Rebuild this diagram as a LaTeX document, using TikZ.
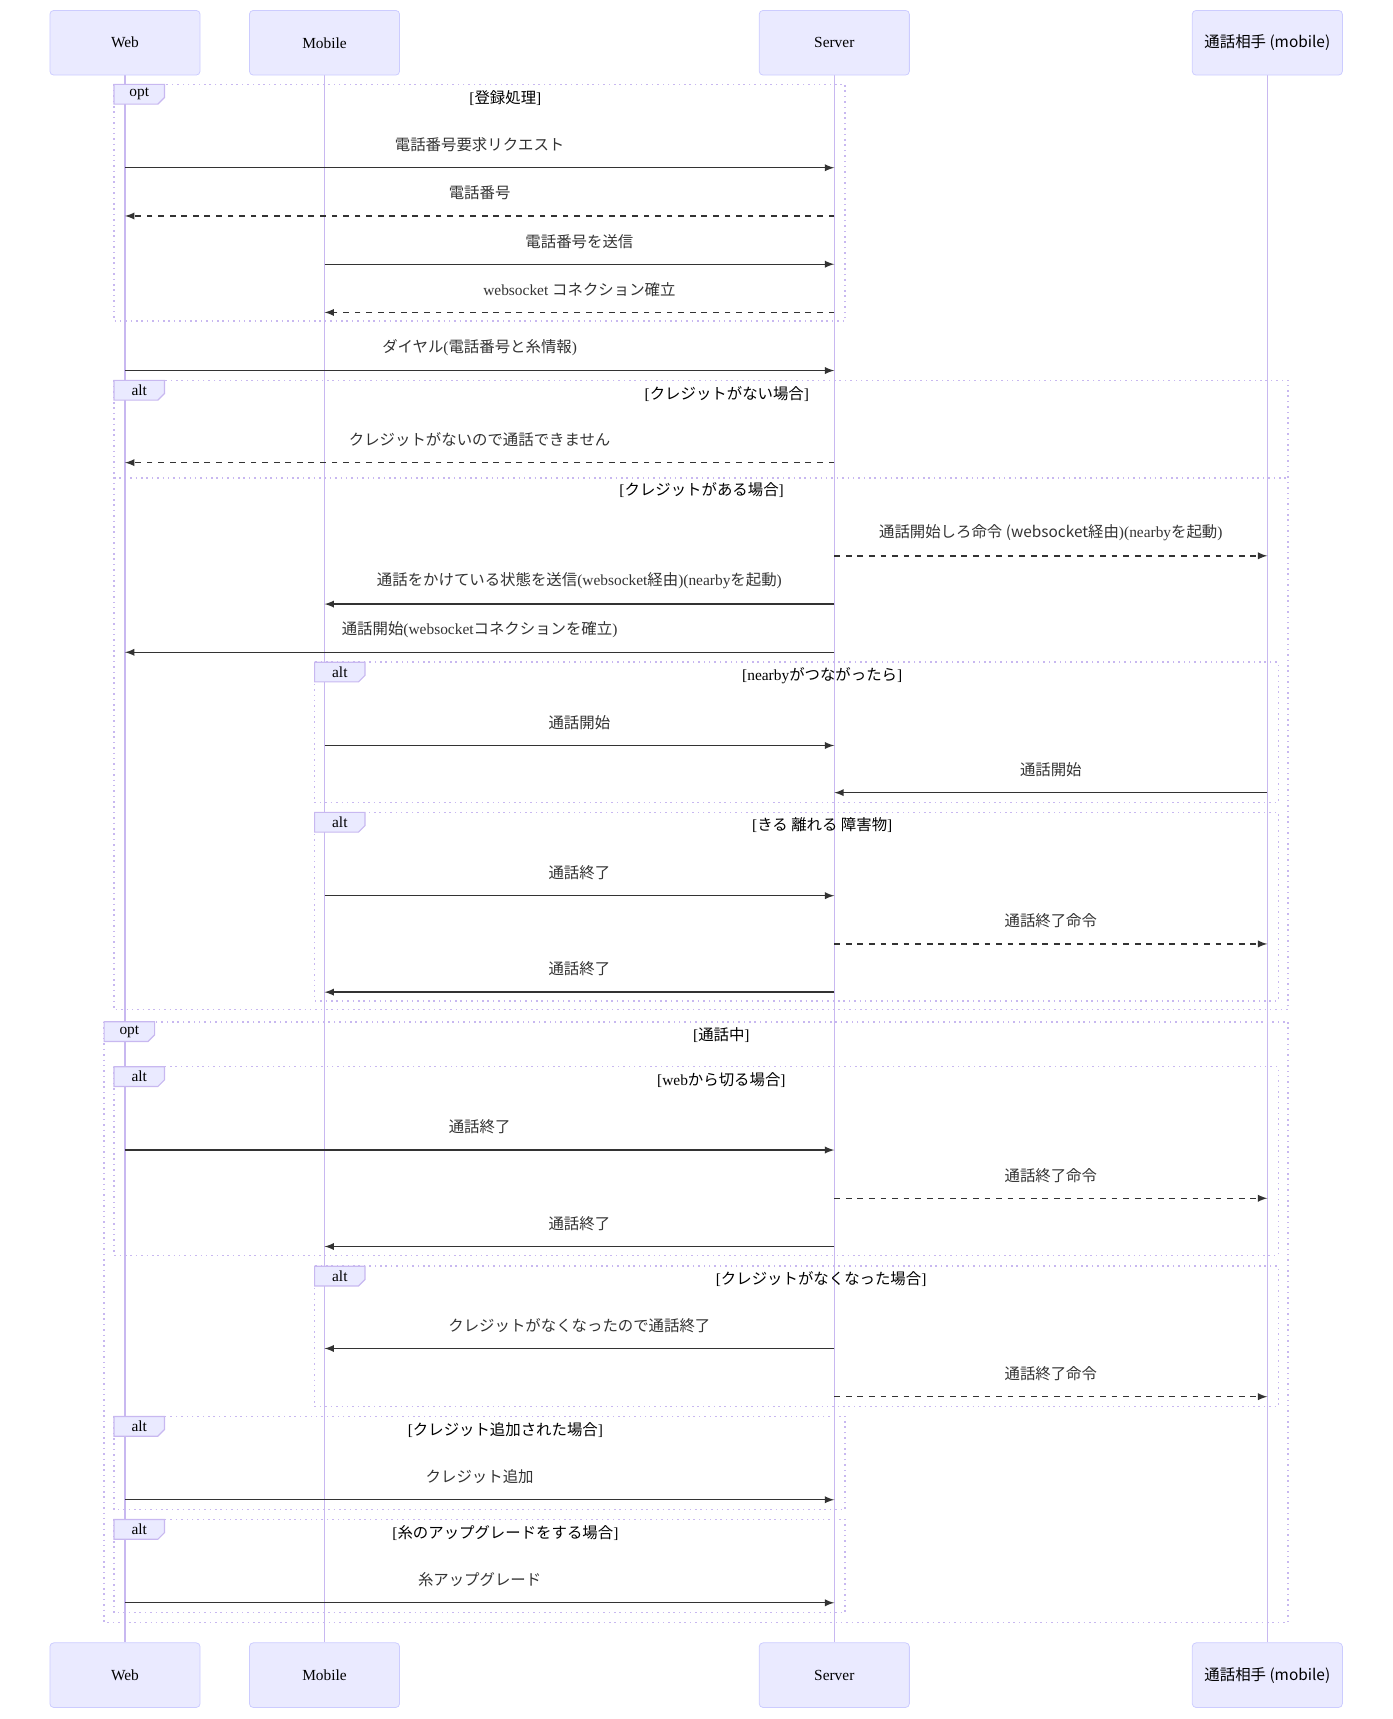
\documentclass[tikz,border=0pt]{standalone}
\usepackage{fontspec}
\setmainfont{Liberation Serif}
\newfontfamily\jp{Noto Sans CJK JP}
\usetikzlibrary{arrows, calc, positioning}
% switch to the CJK font for Japanese characters
\XeTeXinterchartokenstate=1
\newXeTeXintercharclass\cjkclass
\newcount\cc
\cc="3000 \loop\XeTeXcharclass\cc=\cjkclass \advance\cc 1 \ifnum\cc<"3100 \repeat
\cc="4E00 \loop\XeTeXcharclass\cc=\cjkclass \advance\cc 1 \ifnum\cc<"A000 \repeat
\cc="FF00 \loop\XeTeXcharclass\cc=\cjkclass \advance\cc 1 \ifnum\cc<"FFF0 \repeat
\XeTeXinterchartoks 0 \cjkclass = {\jp}
\XeTeXinterchartoks 4095 \cjkclass = {\jp}
\XeTeXinterchartoks \cjkclass 0 = {\rmfamily}
\definecolor{actfill}{HTML}{EAEAFF}
\definecolor{actline}{HTML}{CCCCFF}
\definecolor{life}{HTML}{C8B8F0}
\definecolor{msg}{HTML}{333333}
\tikzset{
  actor/.style={draw=actline, fill=actfill, rounded corners=2pt, minimum width=2.74cm, minimum height=1.18cm, font=\fontsize{8}{10}\selectfont},
  lifeline/.style={draw=life, line width=0.8pt},
  frame/.style={draw=life, dotted, line width=0.8pt},
  msgline/.style={draw=msg, line width=0.7pt, -latex},
  dashmsg/.style={msgline, dashed},
  msglabel/.style={font=\fontsize{8}{10}\selectfont, text=msg},
  guard/.style={font=\fontsize{8}{10}\selectfont},
}
% frame: x1, y1, x2, y2, kind, guard text, guard x
\newcommand{\seqframe}[7]{
  \draw[frame] (#1,#2) rectangle (#3,#4);
  \filldraw[draw=life, fill=actfill, line width=0.6pt] (#1,#2) -- (#1+46,#2) -- (#1+46,#2+12) -- (#1+40,#2+18) -- (#1,#2+18) -- cycle;
  \node[guard] at (#1+23,#2+9) {#5};
  \node[guard] at (#7,#2+12) {[#6]};
}
\begin{document}
\begin{tikzpicture}[x=0.02cm, y=-0.02cm]
\useasboundingbox (0,0) rectangle (1270,1568);

% actors
\foreach \n/\x/\t in {web/114/Web, mob/296/Mobile, srv/761/Server, prt/1156/通話相手 (mobile)}{
  \draw[lifeline] (\x,68) -- (\x,1498);
  \node[actor] (\n top) at (\x,39) {\t};
  \node[actor] (\n bot) at (\x,1528) {\t};
}

% frames
\seqframe{104}{77}{771}{293}{opt}{登録処理}{461}
\seqframe{104}{347}{1175}{921}{alt}{クレジットがない場合}{663}
\draw[frame] (104,436) -- (1175,436);
\node[guard] at (640,447) {[クレジットがある場合]};
\seqframe{287}{604}{1166}{732}{alt}{nearbyがつながったら}{750}
\seqframe{287}{741}{1166}{913}{alt}{きる 離れる 障害物}{750}
\seqframe{95}{932}{1175}{1480}{opt}{通話中}{658}
\seqframe{104}{973}{1166}{1145}{alt}{webから切る場合}{658}
\seqframe{287}{1155}{1166}{1283}{alt}{クレジットがなくなった場合}{749}
\seqframe{104}{1292}{771}{1377}{alt}{クレジット追加された場合}{461}
\seqframe{104}{1386}{771}{1471}{alt}{糸のアップグレードをする場合}{461}

% messages
\foreach \y/\a/\b/\s/\t in {
  153/114/761/msgline/電話番号要求リクエスト,
  197/761/114/dashmsg/電話番号,
  241/296/761/msgline/電話番号を送信,
  285/761/296/dashmsg/websocket コネクション確立,
  338/114/761/msgline/ダイヤル(電話番号と糸情報),
  422/761/114/dashmsg/クレジットがないので通話できません,
  507/761/1156/dashmsg/通話開始しろ命令 (websocket経由)(nearbyを起動),
  551/761/296/msgline/通話をかけている状態を送信(websocket経由)(nearbyを起動),
  595/761/114/msgline/通話開始(websocketコネクションを確立),
  680/296/761/msgline/通話開始,
  723/1156/761/msgline/通話開始,
  817/296/761/msgline/通話終了,
  861/761/1156/dashmsg/通話終了命令,
  905/761/296/msgline/通話終了,
  1049/114/761/msgline/通話終了,
  1093/761/1156/dashmsg/通話終了命令,
  1137/761/296/msgline/通話終了,
  1230/761/296/msgline/クレジットがなくなったので通話終了,
  1274/761/1156/dashmsg/通話終了命令,
  1368/114/761/msgline/クレジット追加,
  1462/114/761/msgline/糸アップグレード}{
  \draw[\s] (\a,\y) -- (\b,\y);
  \node[msglabel] at ({(\a+\b)/2},\y-21) {\t};
}
\end{tikzpicture}
\end{document}
